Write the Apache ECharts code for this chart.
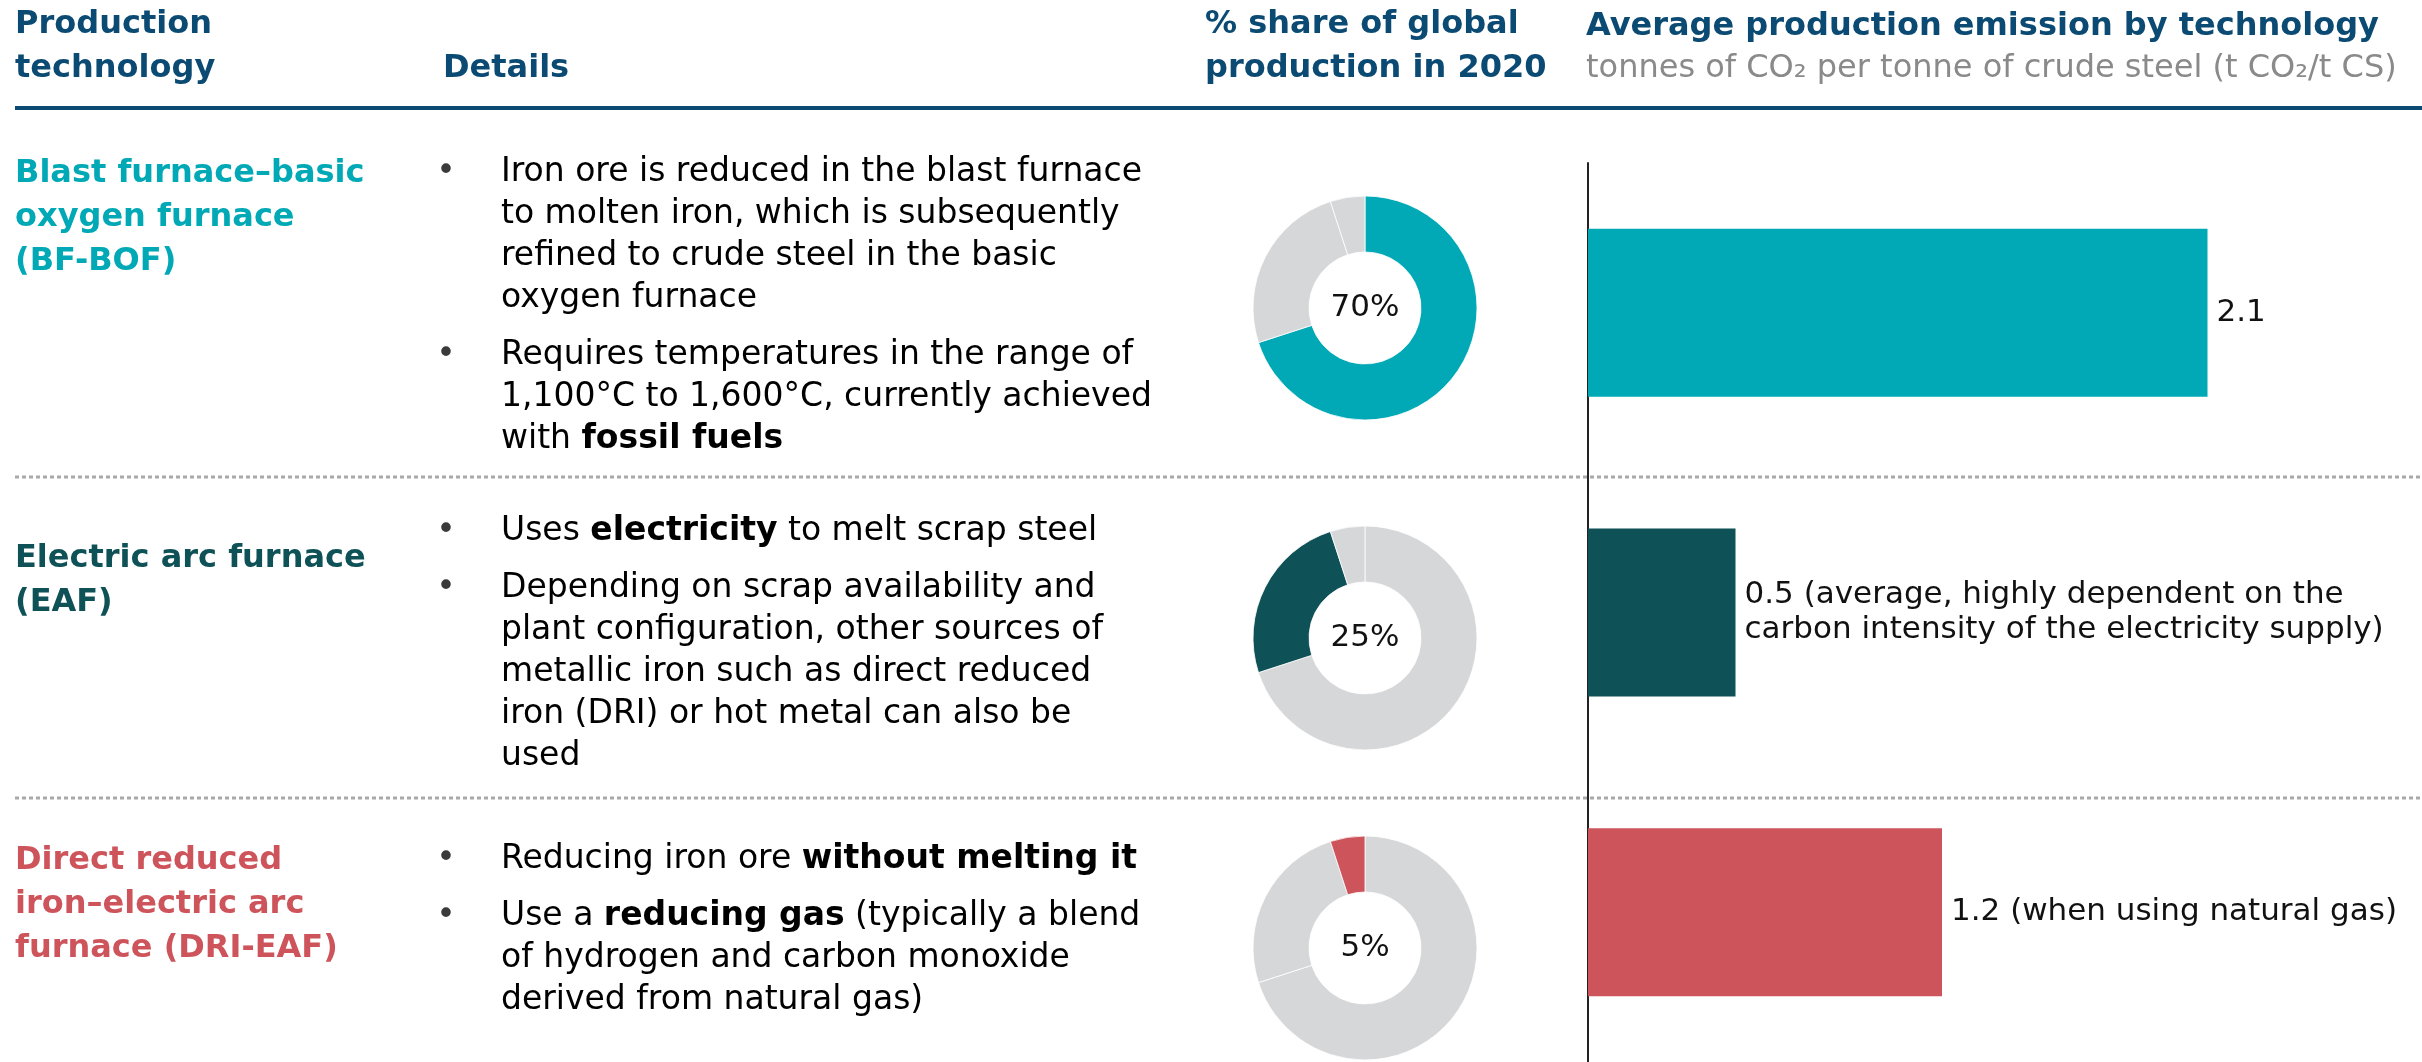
<!DOCTYPE html>
<html>
<head>
<meta charset="utf-8">
<script src="https://cdn.jsdelivr.net/npm/echarts@6/dist/echarts.min.js"></script>
<style>
  html, body { margin: 0; padding: 0; background: #fff; }
  #chart { width: 2422px; height: 1062px; }
</style>
</head>
<body>
<div id="chart"></div>
<script>
// ---------------- DATA ----------------
const categories = ['BF-BOF', 'EAF', 'DRI-EAF'];
const technologyNames = [
  'Blast furnace–basic\noxygen furnace\n(BF-BOF)',
  'Electric arc furnace\n(EAF)',
  'Direct reduced\niron–electric arc\nfurnace (DRI-EAF)'
];
const shareOfProduction = [70, 25, 5];          // % share of global production in 2020
const emissionIntensity = [2.1, 0.5, 1.2];      // t CO2 / t crude steel
const emissionNotes = [
  '',
  '(average, highly dependent on the\ncarbon intensity of the electricity supply)',
  '(when using natural gas)'
];
const details = [
  [
    'Iron ore is reduced in the blast furnace\nto molten iron, which is subsequently\nrefined to crude steel in the basic\noxygen furnace',
    'Requires temperatures in the range of\n1,100°C to 1,600°C, currently achieved\nwith **fossil fuels**'
  ],
  [
    'Uses **electricity** to melt scrap steel',
    'Depending on scrap availability and\nplant configuration, other sources of\nmetallic iron such as direct reduced\niron (DRI) or hot metal can also be\nused'
  ],
  [
    'Reducing iron ore **without melting it**',
    'Use a **reducing gas** (typically a blend\nof hydrogen and carbon monoxide\nderived from natural gas)'
  ]
];
const headers = {
  tech: 'Production\ntechnology',
  details: 'Details',
  share: '% share of global\nproduction in 2020',
  emission: 'Average production emission by technology',
  unit: 'tonnes of CO₂ per tonne of crude steel (t CO₂/t CS)'
};

// ---------------- STYLE ----------------
const FONT = '"DejaVu Sans"';
const techColors = ['#00A9B5', '#0E5156', '#CD545B'];
const greyFill = '#D6D7D9';
const headerBlue = '#0B4A73';
const bodyColor = '#3A3A3A';

// layout (pixels)
const titleTop = [152, 537, 839];
const paraTops = [[151, 334], [510, 567], [838, 895]];
const pieCentersY = [308, 638, 948];
const pieCenterX = 1365;

function toRich(str) {
  return str.split('\n').map(line => {
    const parts = line.split('**');
    return parts.map((p, i) => p ? '{' + (i % 2 ? 'b' : 'n') + '|' + p + '}' : '').join('');
  }).join('\n');
}

const bodyRich = {
  n: { fontFamily: FONT, fontSize: 33, fontWeight: 'normal', color: bodyColor, lineHeight: 42 },
  b: { fontFamily: FONT, fontSize: 33, fontWeight: 'bold', color: '#262626', lineHeight: 42 }
};

const graphics = [];
// header texts
function headerText(x, y, text) {
  graphics.push({
    type: 'text', x: x, y: y, silent: true,
    style: { text: text, fontFamily: FONT, fontSize: 32, fontWeight: 'bold', fill: headerBlue,
             lineHeight: 44, verticalAlign: 'top', align: 'left' }
  });
}
headerText(15, 3, headers.tech);
headerText(443, 47, headers.details);
headerText(1205, 3, headers.share);
headerText(1586, 5, headers.emission);
graphics.push({
  type: 'text', x: 1586, y: 47, silent: true,
  style: { text: headers.unit, fontFamily: FONT, fontSize: 32, fontWeight: 'normal', fill: '#8A8A8A',
           lineHeight: 44, verticalAlign: 'top', align: 'left' }
});
// header rule
graphics.push({ type: 'rect', silent: true, shape: { x: 15, y: 106, width: 2407, height: 4 }, style: { fill: headerBlue } });
// dashed separators
[477, 798].forEach(function (y) {
  graphics.push({ type: 'line', silent: true, shape: { x1: 15, y1: y, x2: 2422, y2: y },
    style: { stroke: '#A9A9A9', lineWidth: 3, lineDash: [4, 3] } });
});
// row titles and bullet details
technologyNames.forEach(function (name, i) {
  graphics.push({
    type: 'text', x: 15, y: titleTop[i], silent: true,
    style: { text: name, fontFamily: FONT, fontSize: 32, fontWeight: 'bold', fill: techColors[i],
             lineHeight: 44, verticalAlign: 'top', align: 'left' }
  });
  details[i].forEach(function (para, j) {
    graphics.push({
      type: 'text', x: 446, y: paraTops[i][j], silent: true,
      style: { text: '•', fontFamily: FONT, fontSize: 33, fill: bodyColor, lineHeight: 42,
               verticalAlign: 'top', align: 'center' }
    });
    graphics.push({
      type: 'text', x: 501, y: paraTops[i][j], silent: true,
      style: { text: toRich(para), rich: bodyRich, verticalAlign: 'top', align: 'left' }
    });
  });
});

// pie series (one donut per technology)
const pieSeries = categories.map(function (cat, i) {
  return {
    type: 'pie',
    name: cat,
    center: [pieCenterX, pieCentersY[i]],
    radius: [56, 112],
    startAngle: 90,
    clockwise: true,
    silent: true,
    animation: false,
    labelLine: { show: false },
    data: shareOfProduction.map(function (v, k) {
      return {
        name: categories[k],
        value: v,
        itemStyle: { color: k === i ? techColors[i] : greyFill, borderColor: '#ffffff', borderWidth: 0.8 },
        label: {
          show: k === i,
          position: 'center',
          formatter: '{c}%',
          fontFamily: FONT,
          fontSize: 31,
          color: '#111'
        }
      };
    })
  };
});

const chart = echarts.init(document.getElementById('chart'), null, { renderer: 'canvas' });
chart.setOption({
  animation: false,
  backgroundColor: '#ffffff',
  grid: { left: 1588, top: 163, width: 826, height: 903, containLabel: false },
  xAxis: { type: 'value', min: 0, max: 2.8, show: false, splitLine: { show: false } },
  yAxis: {
    type: 'category', inverse: true, data: categories,
    axisLine: { show: true, lineStyle: { color: '#222', width: 2 } },
    axisTick: { show: false }, axisLabel: { show: false }, splitLine: { show: false }
  },
  series: [{
    type: 'bar',
    silent: true,
    barWidth: 168,
    data: emissionIntensity.map(function (v, i) {
      return { value: v, itemStyle: { color: techColors[i] } };
    }),
    label: {
      show: true, position: 'right', distance: 9,
      fontFamily: FONT, fontSize: 31, lineHeight: 35, color: '#111',
      formatter: function (p) {
        const note = emissionNotes[p.dataIndex];
        return p.value + (note ? ' ' + note : '');
      }
    }
  }].concat(pieSeries),
  graphic: graphics
});
</script>
</body>
</html>
